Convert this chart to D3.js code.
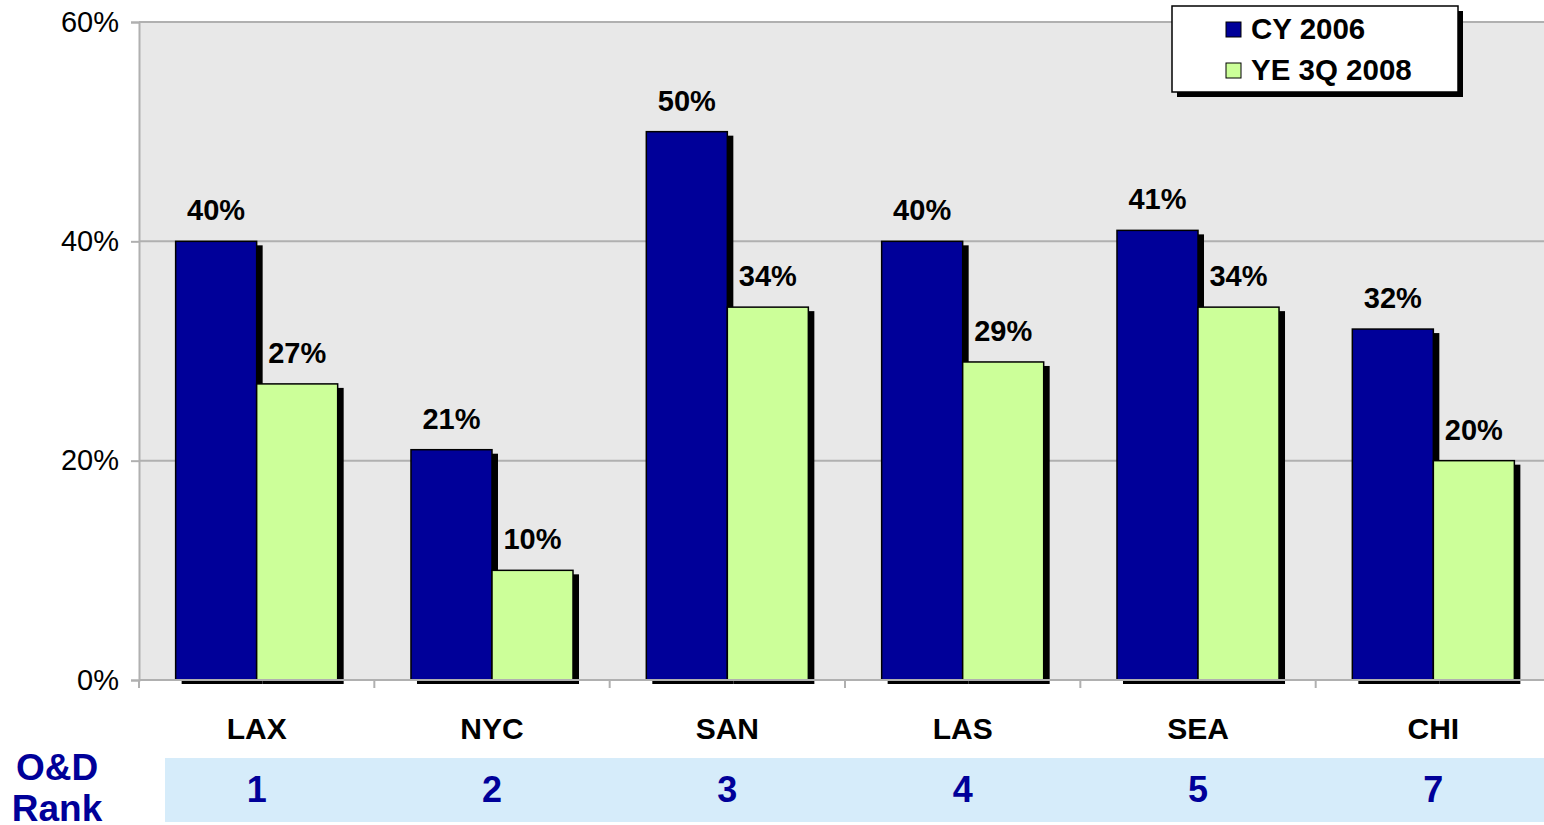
<!DOCTYPE html>
<html>
<head>
<meta charset="utf-8">
<script src="https://cdn.jsdelivr.net/npm/d3@7"></script>
<style>
  body { margin: 0; background: #fff; overflow: hidden; }
  text { font-family: "Liberation Sans", Arial, sans-serif; }
</style>
</head>
<body>
<svg id="svg" width="1544" height="825"></svg>
<script>
// airports, O&D rank, two series
var airports = ["LAX", "NYC", "SAN", "LAS", "SEA", "CHI"];
var ranks = [1, 2, 3, 4, 5, 7];
var seriesNames = ["CY 2006", "YE 3Q 2008"];
var cy2006 = [0.40, 0.21, 0.50, 0.40, 0.41, 0.32];
var ye3q2008 = [0.27, 0.10, 0.34, 0.29, 0.34, 0.20];
var yTicks = [0, 0.2, 0.4, 0.6];

var colors = ["#000099", "#ccff99"];
var svg = d3.select("#svg");

var plotL = 139, plotR = 1551, plotT = 22, plotB = 680;

var y = d3.scaleLinear().domain([0, 0.6]).range([plotB, plotT]);
var x0 = d3.scaleBand().domain(airports).range([plotL, plotR])
  .paddingInner(0.3115).paddingOuter(0.1557);
var x1 = d3.scaleBand().domain(seriesNames).range([0, x0.bandwidth()]);

// plot background
svg.append("rect")
  .attr("x", plotL).attr("y", plotT)
  .attr("width", plotR - plotL).attr("height", plotB - plotT)
  .attr("fill", "#e8e8e8");

// gridlines
svg.append("g").selectAll("line").data(yTicks.slice(1)).join("line")
  .attr("x1", plotL).attr("x2", plotR)
  .attr("y1", function(d) { return y(d); })
  .attr("y2", function(d) { return y(d); })
  .attr("stroke", "#b0b0b0").attr("stroke-width", 2);

// y axis
var yAxis = d3.axisLeft(y).tickValues(yTicks).tickSize(8).tickPadding(12)
  .tickFormat(d3.format(".0%"));
var gy = svg.append("g").attr("transform", "translate(" + plotL + ",0)").call(yAxis);
gy.select(".domain").attr("stroke", "#b0b0b0").attr("stroke-width", 2);
gy.selectAll(".tick line").attr("stroke", "#b0b0b0").attr("stroke-width", 2);
gy.selectAll(".tick text").attr("font-size", 29).attr("fill", "#000")
  .attr("font-family", "'Liberation Sans', Arial, sans-serif");

// x axis: ticks on band boundaries
var boundaries = airports.map(function(a) { return x0(a) - x0.step() * x0.paddingOuter(); });
var gx = svg.append("g");
gx.selectAll("line.tk").data(boundaries).join("line").attr("class", "tk")
  .attr("x1", function(d) { return d; }).attr("x2", function(d) { return d; })
  .attr("y1", plotB).attr("y2", plotB + 8)
  .attr("stroke", "#b0b0b0").attr("stroke-width", 2);

// bars
var rows = airports.map(function(a, i) {
  return { airport: a, values: [cy2006[i], ye3q2008[i]] };
});
function pairs(d) {
  return d.values.map(function(v, j) { return { name: seriesNames[j], v: v, j: j }; });
}

var groups = svg.append("g").selectAll("g").data(rows).join("g")
  .attr("transform", function(d) { return "translate(" + x0(d.airport) + ",0)"; });

// shadows first
groups.selectAll("rect.shadow").data(pairs).join("rect").attr("class", "shadow")
  .attr("x", function(d) { return x1(d.name) + 6; })
  .attr("y", function(d) { return y(d.v) + 4; })
  .attr("width", x1.bandwidth())
  .attr("height", function(d) { return plotB - y(d.v); })
  .attr("fill", "#000");

groups.selectAll("rect.bar").data(pairs).join("rect").attr("class", "bar")
  .attr("x", function(d) { return x1(d.name); })
  .attr("y", function(d) { return y(d.v); })
  .attr("width", x1.bandwidth())
  .attr("height", function(d) { return plotB - y(d.v); })
  .attr("fill", function(d) { return colors[d.j]; })
  .attr("stroke", "#000").attr("stroke-width", 1.5);

// baseline drawn over shadows
svg.append("line").attr("x1", plotL).attr("x2", plotR)
  .attr("y1", plotB).attr("y2", plotB)
  .attr("stroke", "#b0b0b0").attr("stroke-width", 2);

// value labels
groups.selectAll("text.lbl").data(pairs).join("text").attr("class", "lbl")
  .attr("x", function(d) { return x1(d.name) + x1.bandwidth() / 2; })
  .attr("y", function(d) { return y(d.v) - 21; })
  .attr("text-anchor", "middle")
  .attr("font-size", 29).attr("font-weight", "bold")
  .text(function(d) { return d3.format(".0%")(d.v); });

// category labels
svg.append("g").selectAll("text").data(airports).join("text")
  .attr("x", function(d) { return x0(d) + x0.bandwidth() / 2; })
  .attr("y", 739)
  .attr("text-anchor", "middle")
  .attr("font-size", 30).attr("font-weight", "bold")
  .text(function(d) { return d; });

// O&D rank row
svg.append("rect").attr("x", 165).attr("y", 758)
  .attr("width", 1544 - 165).attr("height", 64).attr("fill", "#d6ecfa");
svg.append("g").selectAll("text").data(ranks).join("text")
  .attr("x", function(d, i) { return x0(airports[i]) + x0.bandwidth() / 2; })
  .attr("y", 802)
  .attr("text-anchor", "middle")
  .attr("font-size", 36).attr("font-weight", "bold").attr("fill", "#000099")
  .text(function(d) { return d; });
svg.append("text").attr("x", 57).attr("y", 780).attr("text-anchor", "middle")
  .attr("font-size", 37).attr("font-weight", "bold").attr("fill", "#000099").text("O&D");
svg.append("text").attr("x", 57).attr("y", 821).attr("text-anchor", "middle")
  .attr("font-size", 37).attr("font-weight", "bold").attr("fill", "#000099").text("Rank");

// legend
var lg = svg.append("g").attr("transform", "translate(1172,6)");
lg.append("rect").attr("x", 5).attr("y", 5).attr("width", 286).attr("height", 86).attr("fill", "#000");
lg.append("rect").attr("x", 0).attr("y", 0).attr("width", 286).attr("height", 86)
  .attr("fill", "#fff").attr("stroke", "#000").attr("stroke-width", 1.5);
var items = lg.selectAll("g.item").data(seriesNames).join("g").attr("class", "item")
  .attr("transform", function(d, i) { return "translate(0," + (23 + i * 41) + ")"; });
items.append("rect").attr("x", 54).attr("y", -7).attr("width", 15).attr("height", 15)
  .attr("fill", function(d, i) { return colors[i]; })
  .attr("stroke", "#000").attr("stroke-width", 1);
items.append("text").attr("x", 79).attr("y", 10)
  .attr("font-size", 29.5).attr("font-weight", "bold")
  .text(function(d) { return d; });
</script>
</body>
</html>
